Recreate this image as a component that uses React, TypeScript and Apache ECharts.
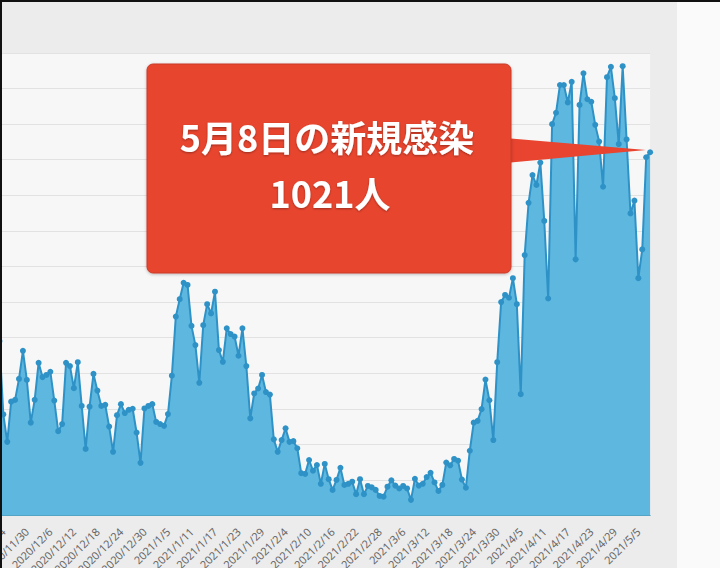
import React, { useEffect, useRef } from "react";
import * as echarts from "echarts";

const categories: string[] = [
  "2020/11/23","2020/11/24","2020/11/25","2020/11/26","2020/11/27","2020/11/28","2020/11/29","2020/11/30",
  "2020/12/1","2020/12/2","2020/12/3","2020/12/4","2020/12/5","2020/12/6","2020/12/7","2020/12/8","2020/12/9","2020/12/10",
  "2020/12/11","2020/12/12","2020/12/13","2020/12/14","2020/12/15","2020/12/16","2020/12/17","2020/12/18","2020/12/19","2020/12/20",
  "2020/12/21","2020/12/22","2020/12/23","2020/12/24","2020/12/25","2020/12/26","2020/12/27","2020/12/28","2020/12/29","2020/12/30","2020/12/31",
  "2021/1/1","2021/1/2","2021/1/3","2021/1/4","2021/1/5","2021/1/6","2021/1/7","2021/1/8","2021/1/9","2021/1/10",
  "2021/1/11","2021/1/12","2021/1/13","2021/1/14","2021/1/15","2021/1/16","2021/1/17","2021/1/18","2021/1/19","2021/1/20",
  "2021/1/21","2021/1/22","2021/1/23","2021/1/24","2021/1/25","2021/1/26","2021/1/27","2021/1/28","2021/1/29","2021/1/30","2021/1/31",
  "2021/2/1","2021/2/2","2021/2/3","2021/2/4","2021/2/5","2021/2/6","2021/2/7","2021/2/8","2021/2/9","2021/2/10",
  "2021/2/11","2021/2/12","2021/2/13","2021/2/14","2021/2/15","2021/2/16","2021/2/17","2021/2/18","2021/2/19","2021/2/20",
  "2021/2/21","2021/2/22","2021/2/23","2021/2/24","2021/2/25","2021/2/26","2021/2/27","2021/2/28",
  "2021/3/1","2021/3/2","2021/3/3","2021/3/4","2021/3/5","2021/3/6","2021/3/7","2021/3/8","2021/3/9","2021/3/10",
  "2021/3/11","2021/3/12","2021/3/13","2021/3/14","2021/3/15","2021/3/16","2021/3/17","2021/3/18","2021/3/19","2021/3/20",
  "2021/3/21","2021/3/22","2021/3/23","2021/3/24","2021/3/25","2021/3/26","2021/3/27","2021/3/28","2021/3/29","2021/3/30","2021/3/31",
  "2021/4/1","2021/4/2","2021/4/3","2021/4/4","2021/4/5","2021/4/6","2021/4/7","2021/4/8","2021/4/9","2021/4/10",
  "2021/4/11","2021/4/12","2021/4/13","2021/4/14","2021/4/15","2021/4/16","2021/4/17","2021/4/18","2021/4/19","2021/4/20",
  "2021/4/21","2021/4/22","2021/4/23","2021/4/24","2021/4/25","2021/4/26","2021/4/27","2021/4/28","2021/4/29","2021/4/30",
  "2021/5/1","2021/5/2","2021/5/3","2021/5/4","2021/5/5","2021/5/6","2021/5/7","2021/5/8",
];

const newCases: number[] = [
  490, 284, 207, 320, 325, 384, 463, 381, 261, 325,
  429, 389, 395, 404, 323, 237, 257, 429, 420, 358,
  431, 308, 187, 306, 398, 351, 308, 311, 250, 179,
  282, 313, 288, 297, 300, 233, 148, 301, 308, 313,
  263, 257, 252, 285, 393, 559, 608, 654, 648, 533,
  479, 373, 535, 594, 568, 629, 465, 432, 526, 510,
  503, 449, 526, 420, 273, 343, 357, 395, 347, 340,
  214, 179, 212, 245, 207, 209, 189, 119, 117, 156,
  126, 142, 89, 145, 102, 72, 100, 134, 86, 89,
  95, 60, 102, 60, 83, 79, 72, 55, 53, 81,
  99, 84, 76, 83, 76, 44, 103, 84, 89, 108,
  120, 93, 69, 86, 149, 141, 159, 154, 101, 78,
  182, 261, 266, 299, 382, 324, 212, 431, 600, 620,
  612, 667, 594, 341, 732, 879, 957, 929, 992, 828,
  610, 1100, 1132, 1210, 1210, 1161, 1219, 720, 1154, 1243,
  1170, 1163, 1098, 1051, 924, 1232, 1261, 1173, 1044, 1263,
  1057, 849, 885, 667, 748, 1007, 1021,
];

const calloutLines: string[] = ["5月8日の新規感染", "1021人"];

export default function App() {
  const ref = useRef<HTMLDivElement>(null);

  useEffect(() => {
    if (!ref.current) return;
    const chart = echarts.init(ref.current, null, { renderer: "svg" });
    const textStyle = (text: string, x: number, y: number) => ({
      text,
      x,
      y,
      align: "center",
      verticalAlign: "middle",
      fill: "#ffffff",
      font: 'bold 36px "Noto Sans CJK JP"',
      textShadowColor: "rgba(0,0,0,0.35)",
      textShadowBlur: 2,
      textShadowOffsetY: 1,
    });
    const option: any = {
      animation: false,
      backgroundColor: "transparent",
      grid: {
        left: -0.6,
        right: 69.9,
        top: 53,
        bottom: 52.5,
        containLabel: false,
        outerBoundsMode: "none",
        show: true,
        backgroundColor: "#f7f7f7",
        borderWidth: 0,
      },
      xAxis: {
        type: "category",
        data: categories,
        boundaryGap: false,
        axisLine: { show: true, lineStyle: { color: "#4a90ad", width: 1 } },
        axisTick: { show: false },
        splitLine: { show: false },
        axisLabel: {
          interval: (idx: number) => (idx - 1) % 6 === 0,
          rotate: 45,
          fontSize: 11,
          color: "#666",
          margin: 14,
          fontFamily: "Noto Sans",
        },
      },
      yAxis: {
        type: "value",
        min: 0,
        max: 1300,
        interval: 100,
        axisLabel: { show: false },
        axisLine: { show: false },
        axisTick: { show: false },
        splitLine: { lineStyle: { color: "#e2e2e2", width: 1 } },
      },
      series: [
        {
          type: "line",
          data: newCases,
          symbol: "circle",
          symbolSize: 6,
          showSymbol: true,
          showAllSymbol: true,
          lineStyle: { color: "#2e92c7", width: 2 },
          itemStyle: { color: "#2e92c7" },
          areaStyle: { color: "#5eb7df", opacity: 1 },
        },
      ],
      graphic: [
        {
          type: "polygon",
          z: 100,
          zlevel: 1,
          shape: { points: [[505, 138], [646, 150], [505, 163]] },
          style: { fill: "#e8442f" },
        },
        {
          type: "rect",
          z: 101,
          zlevel: 1,
          shape: { x: 147, y: 64, width: 364, height: 209, r: 6 },
          style: {
            fill: "#e8442f",
            stroke: "#c93a29",
            lineWidth: 1,
            shadowBlur: 3,
            shadowColor: "rgba(0,0,0,0.25)",
            shadowOffsetY: 1,
          },
        },
        {
          type: "text",
          z: 102,
          zlevel: 1,
          style: textStyle(calloutLines[0], 327, 136),
        },
        {
          type: "text",
          z: 102,
          zlevel: 1,
          style: textStyle(calloutLines[1], 330, 192),
        },
      ],
    };
    chart.setOption(option);
    return () => {
      chart.dispose();
    };
  }, []);

  return (
    <div
      style={{
        position: "fixed",
        left: 0,
        top: 0,
        width: 720,
        height: 568,
        background: "linear-gradient(to right, #ececec 0px, #ececec 675px, #fafafa 675px, #fafafa 720px)",
        borderTop: "2px solid #111",
        borderLeft: "2px solid #111",
        boxSizing: "border-box",
        overflow: "hidden",
      }}
    >
      <div ref={ref} style={{ position: "absolute", left: -2, top: -2, width: 720, height: 568 }} />
    </div>
  );
}
